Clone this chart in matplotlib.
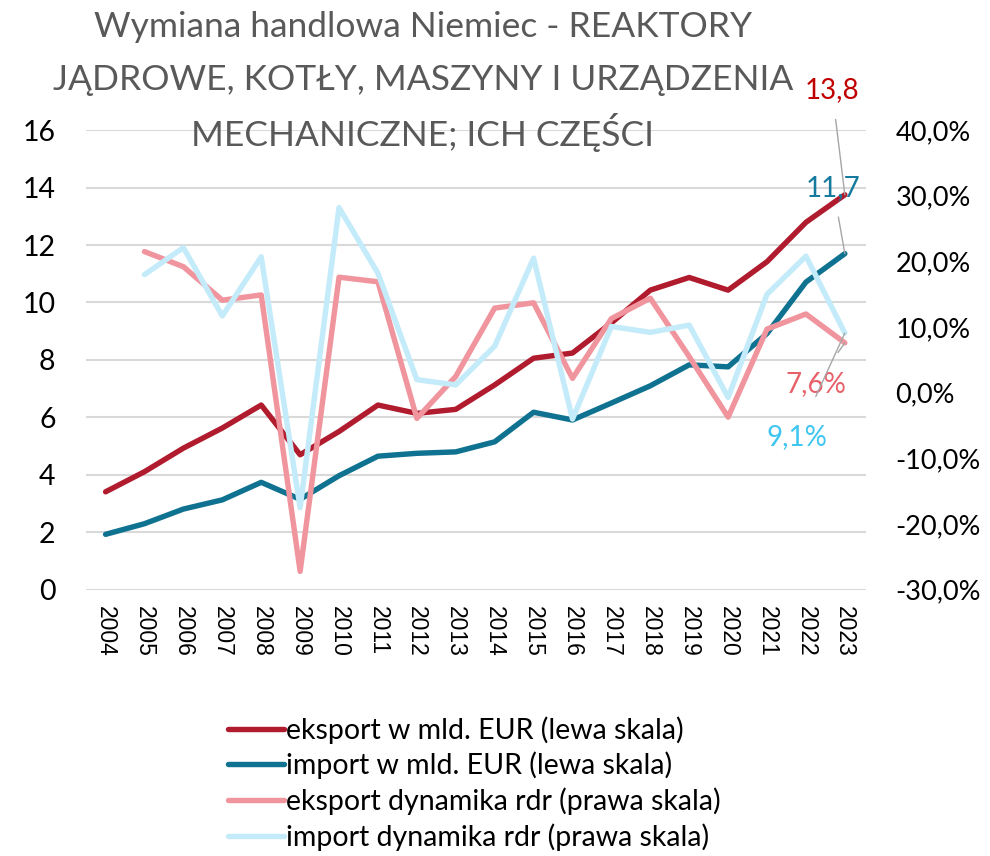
import numpy as np
import matplotlib.pyplot as plt
from matplotlib.ticker import FuncFormatter

plt.rcParams["font.family"] = ["Lato", "DejaVu Sans"]

years = [str(y) for y in range(2004, 2024)]

# mld EUR (left axis)
eksport = [3.41, 4.11, 4.93, 5.63, 6.43, 4.70, 5.51, 6.43, 6.14, 6.28,
           7.13, 8.06, 8.24, 9.29, 10.43, 10.87, 10.43, 11.42, 12.79, 13.75]
import_ = [1.93, 2.30, 2.81, 3.13, 3.74, 3.15, 3.97, 4.65, 4.75, 4.80,
           5.15, 6.18, 5.91, 6.50, 7.10, 7.83, 7.76, 8.92, 10.71, 11.70]

# y/y dynamics in % (right axis), no value for 2004
eksport_dyn = [np.nan, 21.5, 19.2, 14.1, 14.9, -27.2, 17.6, 16.9, -3.9, 2.5,
               12.9, 13.7, 2.2, 11.3, 14.4, 5.5, -3.7, 9.7, 12.0, 7.6]
import_dyn = [np.nan, 18.0, 22.1, 11.7, 20.7, -17.5, 28.2, 18.2, 2.0, 1.2,
              7.1, 20.5, -4.0, 10.1, 9.2, 10.3, -0.7, 15.0, 20.8, 9.1]

c_eks = "#B01B2E"
c_imp = "#0F7290"
c_eks_dyn = "#F0959E"
c_imp_dyn = "#C4EBF9"

fig = plt.figure(figsize=(9.9, 8.56), dpi=100)
ax = fig.add_axes([0.087, 0.311, 0.788, 0.537])
ax2 = ax.twinx()

x = np.arange(len(years))
lw = 3.9
l1, = ax.plot(x, eksport, color=c_eks, lw=lw, solid_capstyle="round",
              label="eksport w mld. EUR (lewa skala)", zorder=3)
l2, = ax.plot(x, import_, color=c_imp, lw=lw, solid_capstyle="round",
              label="import w mld. EUR (lewa skala)", zorder=3)
l3, = ax2.plot(x, np.array(eksport_dyn) / 100, color=c_eks_dyn, lw=lw,
               solid_capstyle="round", label="eksport dynamika rdr (prawa skala)")
l4, = ax2.plot(x, np.array(import_dyn) / 100, color=c_imp_dyn, lw=lw,
               solid_capstyle="round", label="import dynamika rdr (prawa skala)")

ax.set_xlim(-0.5, len(years) - 0.45)
ax.set_ylim(0, 16)
ax.set_yticks(range(0, 17, 2))
ax2.set_ylim(-0.3, 0.4)
ax2.set_yticks(np.arange(-0.3, 0.41, 0.1))
ax2.yaxis.set_major_formatter(
    FuncFormatter(lambda v, p: f"{v * 100:.1f}%".replace(".", ",")))

ax.set_xticks(x)
ax.set_xticklabels(years, rotation=-90, family="Liberation Sans", fontsize=16.5)
ax.grid(axis="y", color="#D9D9D9", lw=1.5)
ax.set_axisbelow(True)
for a in (ax, ax2):
    for s in a.spines.values():
        s.set_visible(False)
    a.tick_params(length=0, colors="black")
ax.tick_params(axis="y", pad=22, labelsize=20.5)
ax.tick_params(axis="x", pad=12)
ax2.tick_params(axis="y", pad=21, labelsize=19.5)

# title
title_lines = ["Wymiana handlowa Niemiec - REAKTORY",
               "JĄDROWE, KOTŁY, MASZYNY I URZĄDZENIA",
               "MECHANICZNE; ICH CZĘŚCI"]
for i, t in enumerate(title_lines):
    fig.text(0.427, 0.968 - i * 0.0615, t, ha="center", va="center",
             fontsize=25.5, color="#595959")

# end labels
last = len(years) - 1
ax.annotate("13,8", xy=(last, eksport[-1]), xytext=(last - 0.33, 17.4),
            ha="center", va="center", fontsize=20, color="#C00000",
            arrowprops=dict(arrowstyle="-", color="#A6A6A6", lw=1,
                            shrinkA=10, shrinkB=0), annotation_clip=False)
ax.annotate("11,7", xy=(last, import_[-1]), xytext=(last - 0.3, 14.0),
            ha="center", va="center", fontsize=20, color="#157A9E",
            arrowprops=dict(arrowstyle="-", color="#A6A6A6", lw=1,
                            shrinkA=10, shrinkB=0), annotation_clip=False)
ax2.annotate("7,6%", xy=(last, eksport_dyn[-1] / 100), xytext=(last - 0.75, 0.013),
             ha="center", va="center", fontsize=20, color="#E8606A",
             arrowprops=dict(arrowstyle="-", color="#A6A6A6", lw=1,
                             shrinkA=14, shrinkB=0), annotation_clip=False)
ax2.annotate("9,1%", xy=(last, import_dyn[-1] / 100), xytext=(last - 1.23, -0.068),
             ha="center", va="center", fontsize=20, color="#3FC6F0",
             arrowprops=dict(arrowstyle="-", color="#A6A6A6", lw=1,
                             shrinkA=20, shrinkB=0), annotation_clip=False)

fig.legend(handles=[l1, l2, l3, l4], loc="upper left",
           bbox_to_anchor=(0.216, 0.18), frameon=False, fontsize=20.5,
           handlelength=1.95, handletextpad=0.1, labelspacing=0.28,
           borderpad=0)

fig.savefig("out.png", dpi=100)
